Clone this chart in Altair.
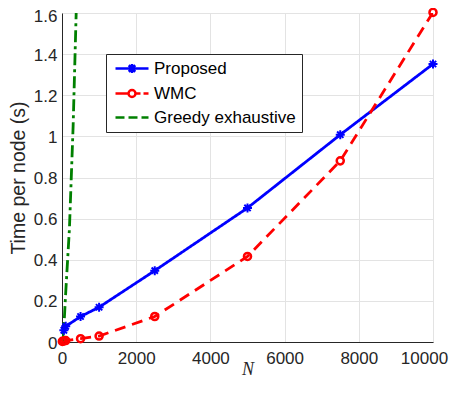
import altair as alt
import pandas as pd

# ---- data ----
series_names = ["Proposed", "WMC", "Greedy exhaustive"]

proposed_N = [50, 100, 500, 1000, 2500, 5000, 7500, 10000]
proposed_t = [0.057, 0.076, 0.124, 0.169, 0.347, 0.652, 1.008, 1.352]

wmc_N = [10, 50, 100, 500, 1000, 2500, 5000, 7500, 10000]
wmc_t = [0.003, 0.005, 0.007, 0.016, 0.029, 0.124, 0.416, 0.881, 1.603]

greedy_N = [10, 50, 100, 200, 300, 400, 500]
greedy_t = [0.005, 0.07, 0.24, 0.55, 1.05, 1.72, 2.5]

x_ticks = [0, 2000, 4000, 6000, 8000, 10000]
y_ticks = [0, 0.2, 0.4, 0.6, 0.8, 1.0, 1.2, 1.4, 1.6]

colors = ["#0000ff", "#ff0000", "#008000"]
dashes = [[1, 0], [11, 7], [12, 4, 3, 4]]

rows = []
for n, t in zip(proposed_N, proposed_t):
    rows.append({"N": n, "t": t, "series": "Proposed"})
for n, t in zip(wmc_N, wmc_t):
    rows.append({"N": n, "t": t, "series": "WMC"})
for n, t in zip(greedy_N, greedy_t):
    rows.append({"N": n, "t": t, "series": "Greedy exhaustive"})
df = pd.DataFrame(rows)

FONT = "Liberation Sans"
INK = "#262626"

x_enc = alt.X("N:Q", scale=alt.Scale(domain=[0, 10000], nice=False),
              axis=alt.Axis(values=x_ticks, format="d", title="N",
                            titleFont="Liberation Serif", titleFontStyle="italic",
                            titleFontWeight="normal", titleFontSize=18,
                            titleColor=INK, titleY=32, titleBaseline="alphabetic",
                            labelFont=FONT, labelFontSize=17, labelColor=INK,
                            labelPadding=8, tickSize=0, domainColor=INK,
                            gridColor="#e3e3e3", labelFlush=False,
                            labelOffset={"condition": {"test": "datum.value == 10000", "value": -9},
                                         "value": 0}))
y_enc = alt.Y("t:Q", scale=alt.Scale(domain=[0, 1.6], nice=False),
              axis=alt.Axis(values=y_ticks, format="~g", title="Time per node (s)",
                            titleFont=FONT, titleFontSize=19.5, titleFontWeight="normal",
                            titleColor=INK, titlePadding=5,
                            labelFont=FONT, labelFontSize=17, labelColor=INK,
                            labelPadding=5, tickSize=0, domainColor=INK,
                            gridColor="#e3e3e3", labelFlush=False,
                            labelOffset={"condition": {"test": "datum.value >= 1.59", "value": 3},
                                         "value": 1}))

base = alt.Chart(df)

layers = []
for i, name in enumerate(series_names):
    ln = base.transform_filter(alt.datum.series == name).mark_line(
        clip=True, strokeWidth=2.8, strokeCap="butt", color=colors[i], strokeDash=dashes[i]
    )
    if i == 0:
        ln = ln.encode(x=x_enc, y=y_enc)
    else:
        ln = ln.encode(x="N:Q", y="t:Q")
    layers.append(ln)

asterisk = "M-1,0H1M0,-1V1M-0.7,-0.7L0.7,0.7M-0.7,0.7L0.7,-0.7"
layers.append(base.transform_filter(alt.datum.series == "Proposed").mark_point(
    shape=asterisk, size=81, strokeWidth=2, filled=False, opacity=1, color=colors[0]
).encode(x="N:Q", y="t:Q"))
layers.append(base.transform_filter(alt.datum.series == "WMC").mark_point(
    shape="circle", size=50, strokeWidth=2.5, filled=False, opacity=1, color=colors[1]
).encode(x="N:Q", y="t:Q"))

legend_paths = [
    "M-1,0H5.6M1.4,0H3.2M2.3,-0.9V0.9M1.65,-0.65L2.95,0.65M1.65,0.65L2.95,-0.65",
    "M-1,0H1.6M3.0,0A0.7,0.7 0 1,1 1.6,0A0.7,0.7 0 1,1 3.0,0M3.0,0H4.0M4.6,0H5.6",
    "M-1,0H0.8M1.6,0H3.4M4.2,0H5.6",
]

leg = alt.Legend(orient="none", legendX=44, legendY=41, title=None,
                 padding=6, rowPadding=6, labelOffset=25,
                 labelFont=FONT, labelFontSize=17, labelColor="black",
                 strokeColor=INK, fillColor="white", cornerRadius=0,
                 symbolSize=100, symbolStrokeWidth=2.5,
                 symbolFillColor="transparent", symbolOpacity=1,
                 labelLimit=300)

# legend-only layer: no rows pass the filter, the legend comes from the explicit scale domains
layers.append(base.transform_filter("datum.N < 0").mark_point(
    filled=False, size=100, strokeWidth=2.5, opacity=1
).encode(
    x="N:Q", y="t:Q",
    color=alt.Color("series:N", scale=alt.Scale(domain=series_names, range=colors), legend=leg),
    shape=alt.Shape("series:N", scale=alt.Scale(domain=series_names, range=legend_paths), legend=leg),
))

chart = alt.layer(*layers).properties(
    width=371, height=329,
    autosize=alt.AutoSizeParams(type="none"),
    padding={"left": 54, "top": 5, "right": 16, "bottom": 36},
).configure_view(stroke=INK, strokeWidth=1).configure(background="white")

chart.save("out.html", embed_options={"renderer": "svg", "actions": False})
